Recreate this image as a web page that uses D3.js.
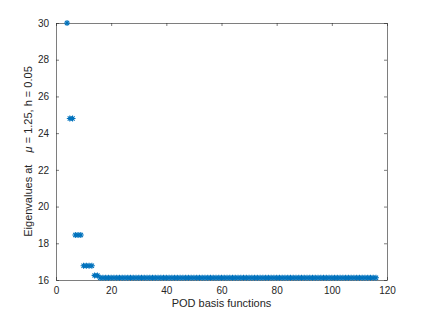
<!DOCTYPE html>
<html>
<head>
<meta charset="utf-8">
<script src="https://cdn.jsdelivr.net/npm/d3@7"></script>
<style>
  body { margin: 0; background: #fff; }
  text { font-family: "Liberation Sans", Arial, sans-serif; fill: #262626; }
</style>
</head>
<body>
<div id="chart"></div>
<script>
// chart data
var firstIndex = 4;
var eigenvalues = [
  30.0, 24.8, 24.8, 18.45, 18.45, 18.45, 16.78, 16.78, 16.78, 16.78, 16.25, 16.25,
  16.12, 16.12, 16.12, 16.12, 16.12, 16.12, 16.12, 16.12, 16.12, 16.12,
  16.12, 16.12, 16.12, 16.12, 16.12, 16.12, 16.12, 16.12, 16.12, 16.12,
  16.12, 16.12, 16.12, 16.12, 16.12, 16.12, 16.12, 16.12, 16.12, 16.12,
  16.12, 16.12, 16.12, 16.12, 16.12, 16.12, 16.12, 16.12, 16.12, 16.12,
  16.12, 16.12, 16.12, 16.12, 16.12, 16.12, 16.12, 16.12, 16.12, 16.12,
  16.12, 16.12, 16.12, 16.12, 16.12, 16.12, 16.12, 16.12, 16.12, 16.12,
  16.12, 16.12, 16.12, 16.12, 16.12, 16.12, 16.12, 16.12, 16.12, 16.12,
  16.12, 16.12, 16.12, 16.12, 16.12, 16.12, 16.12, 16.12, 16.12, 16.12,
  16.12, 16.12, 16.12, 16.12, 16.12, 16.12, 16.12, 16.12, 16.12, 16.12,
  16.12, 16.12, 16.12, 16.12, 16.12, 16.12, 16.12, 16.12, 16.12, 16.12,
  16.12
];
var xTicks = [0, 20, 40, 60, 80, 100, 120];
var yTicks = [16, 18, 20, 22, 24, 26, 28, 30];

var svgWidth = 428;
var svgHeight = 315;
var margin = { top: 23, right: 41, bottom: 35, left: 56 };
var width = svgWidth - margin.left - margin.right;
var height = svgHeight - margin.top - margin.bottom;

var svg = d3.select('#chart')
  .append('svg')
  .attr('width', svgWidth)
  .attr('height', svgHeight);

var chartGroup = svg.append('g')
  .attr('transform', `translate(${margin.left}, ${margin.top})`);

var xScale = d3.scaleLinear().domain([0, 120]).range([0, width]);
var yScale = d3.scaleLinear().domain([16, 30]).range([height, 0]);

// axes, ticks pointing inward like matlab
function styleAxis(g) {
  g.selectAll('path').attr('stroke', '#262626').attr('stroke-width', 0.6);
  g.selectAll('line').attr('stroke', '#262626').attr('stroke-width', 0.6);
  g.selectAll('text').style('font-size', '10px').attr('fill', '#262626');
}

chartGroup.append('g')
  .attr('transform', `translate(0, ${height})`)
  .call(d3.axisBottom(xScale).tickValues(xTicks).tickSizeInner(-3).tickSizeOuter(0).tickPadding(7))
  .call(styleAxis);

chartGroup.append('g')
  .call(d3.axisTop(xScale).tickValues(xTicks).tickSizeInner(-3).tickSizeOuter(0).tickFormat(''))
  .call(styleAxis);

chartGroup.append('g')
  .call(d3.axisLeft(yScale).tickValues(yTicks).tickSizeInner(-3).tickSizeOuter(0).tickPadding(7))
  .call(styleAxis);

chartGroup.append('g')
  .attr('transform', `translate(${width}, 0)`)
  .call(d3.axisRight(yScale).tickValues(yTicks).tickSizeInner(-3).tickSizeOuter(0).tickFormat(''))
  .call(styleAxis);

// asterisk markers
var r = 3;
var starPath = `M${-r},0L${r},0M0,${-r}L0,${r}` +
  `M${-r * 0.7},${-r * 0.7}L${r * 0.7},${r * 0.7}M${-r * 0.7},${r * 0.7}L${r * 0.7},${-r * 0.7}`;

chartGroup.selectAll('path.star')
  .data(eigenvalues)
  .enter()
  .append('path')
  .attr('class', 'star')
  .attr('d', starPath)
  .attr('transform', (d, i) => `translate(${xScale(firstIndex + i)}, ${yScale(d)})`)
  .attr('fill', 'none')
  .attr('stroke', '#0072BD')
  .attr('stroke-width', 1.1);

// axis labels
chartGroup.append('text')
  .attr('x', width / 2)
  .attr('y', height + 27)
  .style('text-anchor', 'middle')
  .style('font-size', '11px')
  .text('POD basis functions');

var yLabel = chartGroup.append('text')
  .attr('transform', `translate(-24, ${height / 2}) rotate(-90)`)
  .style('text-anchor', 'middle')
  .style('white-space', 'pre')
  .style('font-size', '11px');
yLabel.append('tspan').text('Eigenvalues at    ');
yLabel.append('tspan').style('font-style', 'italic').text('μ');
yLabel.append('tspan').text(' = 1.25, h = 0.05');
</script>
</body>
</html>
